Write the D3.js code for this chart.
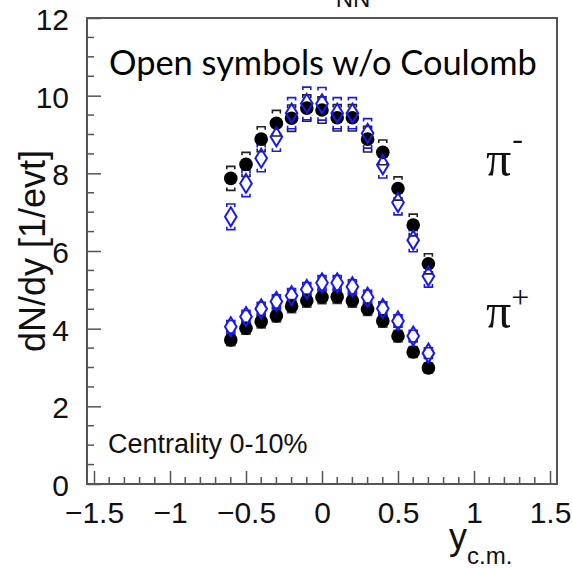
<!DOCTYPE html>
<html>
<head>
<meta charset="utf-8">
<script src="https://cdn.jsdelivr.net/npm/d3@7"></script>
<style>
  html, body { margin: 0; padding: 0; background: #fff; }
  svg { display: block; }
</style>
</head>
<body>
<svg id="chart" width="572" height="568"></svg>
<script>
// Rapidity bins (centre of mass)
const rapidity = [-0.6, -0.5, -0.4, -0.3, -0.2, -0.1, 0.0, 0.1, 0.2, 0.3, 0.4, 0.5, 0.6, 0.7];

// pi- yields: with Coulomb correction (filled) and without (open)
const piMinus       = [7.87, 8.23, 8.88, 9.29, 9.42, 9.68, 9.63, 9.43, 9.43, 8.88, 8.54, 7.61, 6.67, 5.67];
const piMinusNoCoul = [6.88, 7.74, 8.39, 8.94, 9.55, 9.80, 9.79, 9.55, 9.55, 9.03, 8.22, 7.25, 6.28, 5.35];
const piMinusSys       = [0.31, 0.31, 0.32, 0.33, 0.34, 0.34, 0.34, 0.34, 0.34, 0.33, 0.32, 0.30, 0.28, 0.26];
const piMinusNoCoulSys = [0.33, 0.34, 0.35, 0.37, 0.40, 0.42, 0.42, 0.40, 0.40, 0.38, 0.34, 0.32, 0.30, 0.28];

// pi+ yields
const piPlus       = [3.71, 4.01, 4.18, 4.33, 4.58, 4.72, 4.81, 4.82, 4.72, 4.50, 4.20, 3.81, 3.40, 2.99];
const piPlusNoCoul = [4.05, 4.31, 4.51, 4.70, 4.85, 5.01, 5.18, 5.18, 5.08, 4.81, 4.52, 4.20, 3.81, 3.37];
const piPlusSys       = [0.15, 0.15, 0.16, 0.16, 0.17, 0.17, 0.17, 0.17, 0.17, 0.16, 0.16, 0.15, 0.14, 0.13];
const piPlusNoCoulSys = [0.16, 0.16, 0.17, 0.17, 0.18, 0.18, 0.19, 0.19, 0.18, 0.18, 0.17, 0.16, 0.15, 0.14];

// Axis ticks
const xMajorTicks = [-1.5, -1, -0.5, 0, 0.5, 1, 1.5];
const xTickLabels = ["\u22121.5", "\u22121", "\u22120.5", "0", "0.5", "1", "1.5"];
const yMajorTicks = [0, 2, 4, 6, 8, 10, 12];
const yTickLabels = ["0", "2", "4", "6", "8", "10", "12"];

const svg = d3.select("#chart");
const frame = { left: 87, right: 557, top: 18, bottom: 484 };

const x = d3.scaleLinear().domain([-1.546, 1.546]).range([frame.left, frame.right]);
const y = d3.scaleLinear().domain([0, 12]).range([frame.bottom, frame.top]);

const axisColor = "#555";
const blue = "#1a1aee";

// Minor tick positions
const xMinor = d3.range(-15, 16).map(d => d / 10).filter(v => !xMajorTicks.some(m => Math.abs(m - v) < 1e-6));
const yMinor = d3.range(0, 25).map(d => d / 2).filter(v => !yMajorTicks.includes(v));

// Bottom axis (ticks drawn inward)
const xAxis = d3.axisBottom(x).tickValues(xMajorTicks).tickSize(-13).tickFormat((d, i) => xTickLabels[i]).tickPadding(18);
const gx = svg.append("g").attr("transform", `translate(0,${frame.bottom})`).call(xAxis);
gx.select(".domain").remove();
gx.selectAll(".tick line").attr("stroke", axisColor).attr("stroke-width", 1.5);
gx.selectAll(".tick text").attr("font-family", "Liberation Sans, Arial, sans-serif").attr("font-size", 30).attr("fill", "#111");
svg.append("g").selectAll("line").data(xMinor).join("line")
  .attr("x1", d => x(d)).attr("x2", d => x(d))
  .attr("y1", frame.bottom).attr("y2", frame.bottom - 7)
  .attr("stroke", axisColor).attr("stroke-width", 1.5);

// Left axis (ticks drawn inward)
const yAxis = d3.axisLeft(y).tickValues(yMajorTicks).tickSize(-14).tickFormat((d, i) => yTickLabels[i]).tickPadding(18);
const gy = svg.append("g").attr("transform", `translate(${frame.left},0)`).call(yAxis);
gy.select(".domain").remove();
gy.selectAll(".tick line").attr("stroke", axisColor).attr("stroke-width", 1.5);
gy.selectAll(".tick text").attr("font-family", "Liberation Sans, Arial, sans-serif").attr("font-size", 30).attr("fill", "#111").attr("dy", "0.38em");
svg.append("g").selectAll("line").data(yMinor).join("line")
  .attr("x1", frame.left).attr("x2", frame.left + 7)
  .attr("y1", d => y(d)).attr("y2", d => y(d))
  .attr("stroke", axisColor).attr("stroke-width", 1.5);

// Frame
svg.append("rect")
  .attr("x", frame.left).attr("y", frame.top)
  .attr("width", frame.right - frame.left).attr("height", frame.bottom - frame.top)
  .attr("fill", "none").attr("stroke", axisColor).attr("stroke-width", 2);

// Systematic-error brackets
function drawBrackets(vals, sys, color) {
  const g = svg.append("g").attr("fill", "none").attr("stroke", color).attr("stroke-width", 1.6);
  const pts = rapidity.map((r, i) => ({ r, v: vals[i], s: sys[i] }));
  g.selectAll("path").data(pts).join("path")
    .attr("d", d => {
      const cx = x(d.r), yt = y(d.v + d.s), yb = y(d.v - d.s), w = 4, h = 3;
      return `M${cx - w},${yt + h}V${yt}H${cx + w}V${yt + h}` +
             `M${cx - w},${yb - h}V${yb}H${cx + w}V${yb - h}`;
    });
}

function drawDots(vals) {
  svg.append("g").selectAll("circle").data(rapidity.map((r, i) => ({ r, v: vals[i] }))).join("circle")
    .attr("cx", d => x(d.r)).attr("cy", d => y(d.v)).attr("r", 6.8).attr("fill", "#000");
}

function drawDiamonds(vals) {
  const hw = 5.8, hh = 9.5;
  svg.append("g").selectAll("path").data(rapidity.map((r, i) => ({ r, v: vals[i] }))).join("path")
    .attr("d", d => {
      const cx = x(d.r), cy = y(d.v);
      return `M${cx},${cy - hh}L${cx + hw},${cy}L${cx},${cy + hh}L${cx - hw},${cy}Z`;
    })
    .attr("fill", "none").attr("stroke", blue).attr("stroke-width", 2);
}

drawBrackets(piMinus, piMinusSys, "#222");
drawBrackets(piPlus, piPlusSys, "#444");
drawBrackets(piMinusNoCoul, piMinusNoCoulSys, blue);
drawBrackets(piPlusNoCoul, piPlusNoCoulSys, blue);
drawDots(piMinus);
drawDots(piPlus);
drawDiamonds(piMinusNoCoul);
drawDiamonds(piPlusNoCoul);

// Axis titles
svg.append("text")
  .attr("transform", `translate(45,${(frame.top + frame.bottom) / 2}) rotate(-90)`)
  .attr("text-anchor", "middle")
  .attr("font-family", "Liberation Sans, Arial, sans-serif").attr("font-size", 36).attr("fill", "#111")
  .text("dN/dy [1/evt]");

const xt = svg.append("text")
  .attr("x", 449).attr("y", 549)
  .attr("font-family", "Liberation Sans, Arial, sans-serif").attr("font-size", 36).attr("fill", "#111");
xt.append("tspan").text("y");
xt.append("tspan").attr("dy", 15).attr("font-size", 24).text("c.m.");

// Particle labels
function piLabel(px, py, sign, supDx, supDy, supSize) {
  const t = svg.append("text").attr("x", px).attr("y", py)
    .attr("font-family", "Liberation Serif, Times New Roman, serif").attr("font-size", 50).attr("fill", "#111");
  t.append("tspan").text("\u03c0");
  t.append("tspan").attr("dx", supDx).attr("dy", supDy).attr("font-size", supSize).text(sign);
}
piLabel(486, 176, "-", 1, -27, 32);
piLabel(486, 328, "+", 0, -20, 32);

// Annotations
const note = svg.append("text")
  .attr("x", 109).attr("y", 75)
  .attr("font-family", "Lato, Open Sans, sans-serif").attr("font-size", 36).attr("fill", "#000")
  .text("Open symbols w/o Coulomb");
const noteW = note.node().getComputedTextLength();
note.attr("font-size", 36 * 428 / noteW);

svg.append("text")
  .attr("x", 108).attr("y", 453)
  .attr("font-family", "Liberation Sans, Arial, sans-serif").attr("font-size", 27).attr("fill", "#111")
  .text("Centrality 0-10%");

// Energy label above the frame
const title = svg.append("text")
  .attr("x", 300).attr("y", -4)
  .attr("font-family", "Liberation Sans, Arial, sans-serif").attr("font-size", 34).attr("fill", "#111");
title.append("tspan").text("\u221as");
title.append("tspan").attr("dy", 11).attr("font-size", 24).text("NN");
</script>
</body>
</html>
